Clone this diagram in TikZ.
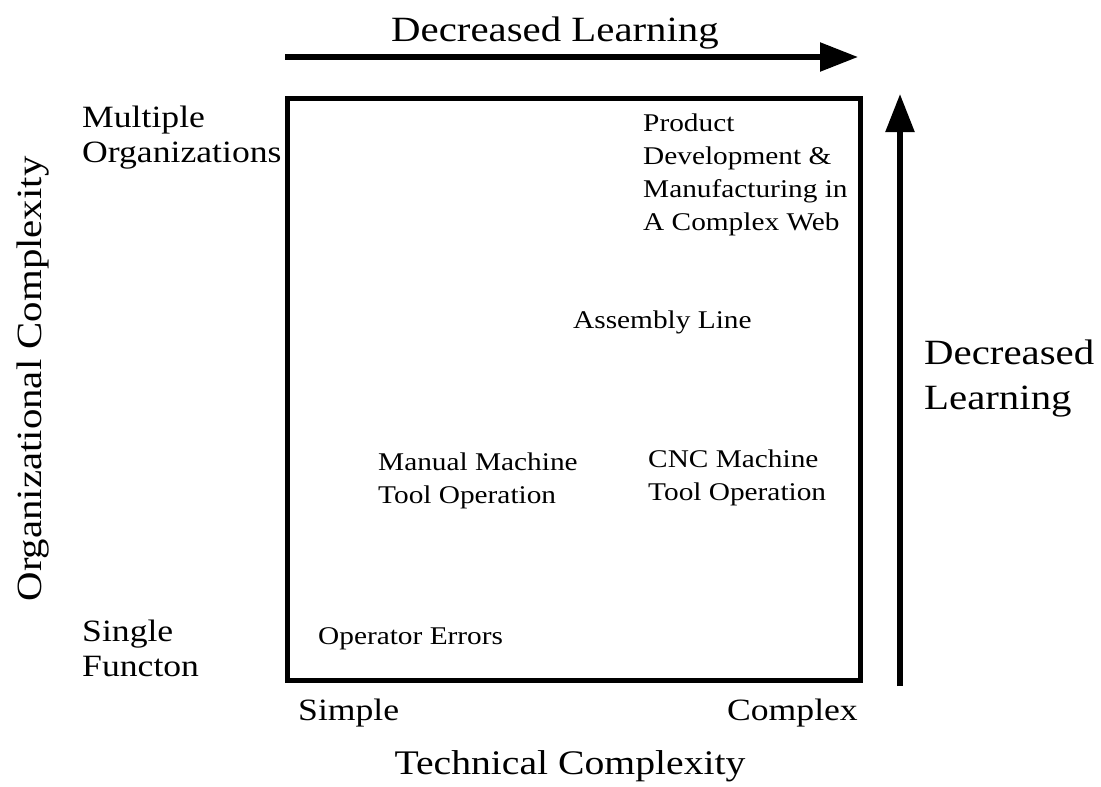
\documentclass[tikz,border=0pt]{standalone}
\usepackage{fontspec}
\setmainfont{Liberation Serif}[FakeStretch=1.15]
\usetikzlibrary{arrows.meta}
\begin{document}
\begin{tikzpicture}[x=1pt,y=-1pt,
  frame/.style={line width=5pt},
  bigarrow/.style={line width=5.5pt,-{Triangle[length=38pt,width=28pt]}},
  ttl/.style={font=\fontsize{35.5}{45}\selectfont,inner sep=0pt},
  axis/.style={font=\fontsize{31}{35}\selectfont,inner sep=0pt},
  item/.style={font=\fontsize{25.5}{33}\selectfont,inner sep=0pt,align=left}]
\useasboundingbox (0,0) rectangle (1101,787);
% quadrant frame
\draw[frame] (287.5,98) rectangle (860,680);
% learning arrows
\coordinate (hs) at (285,57);
\coordinate (he) at (858,57);
\coordinate (vs) at (900,686);
\coordinate (ve) at (900,94);
\draw[bigarrow] (hs) -- (he);
\draw[bigarrow] (vs) -- (ve);
% arrow captions
\node[ttl] (topcap) at (555,33) {Decreased Learning};
\node[ttl,anchor=west,align=left] (rightcap) at (924,379) {Decreased\\Learning};
% axis labels
\node[axis,anchor=west,align=left] (multi) at (82,138) {Multiple\\Organizations};
\node[axis,anchor=west,align=left] (single) at (82,648) {Single\\Functon};
\node[axis,anchor=west] (simple) at (298,713) {Simple};
\node[axis,anchor=east] (complex) at (858,713) {Complex};
\node[ttl,font=\fontsize{34.5}{40}\selectfont] (tech) at (570,766) {Technical Complexity};
\node[ttl,rotate=90] (org) at (33,379) {Organizational Complexity};
% items in the quadrant
\node[item,anchor=west] (web) at (643,175) {Product\\Development \&\\Manufacturing in\\A Complex Web};
\node[item,anchor=west] (assembly) at (573,322) {Assembly Line};
\node[item,anchor=west] (manual) at (378,481) {Manual Machine\\Tool Operation};
\node[item,anchor=west] (cnc) at (648,478) {CNC Machine\\Tool Operation};
\node[item,anchor=west] (errors) at (318,639) {Operator Errors};
\end{tikzpicture}
\end{document}
